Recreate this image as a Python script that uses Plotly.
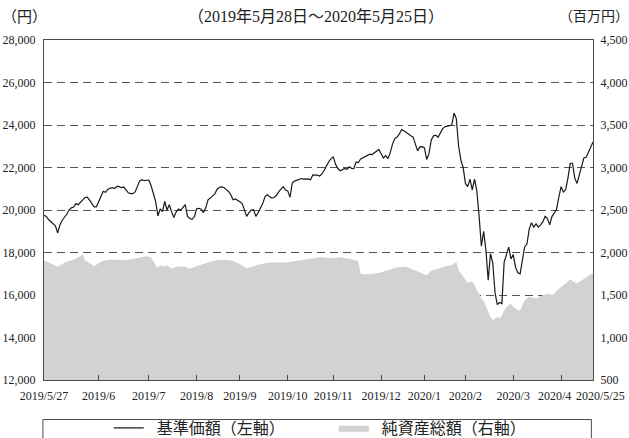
import pandas as pd
import plotly.graph_objects as go

# Japanese market holidays in the period (no NAV published)
holidays = ["2019-07-15", "2019-08-12", "2019-09-16", "2019-09-23", "2019-10-14",
            "2019-10-22", "2019-11-04", "2019-12-31", "2020-01-01", "2020-01-02",
            "2020-01-03", "2020-01-13", "2020-02-11", "2020-02-24", "2020-03-20",
            "2020-04-29", "2020-05-04", "2020-05-05", "2020-05-06"]
dates = [d for d in pd.bdate_range("2019-05-27", "2020-05-25")
         if d.strftime("%Y-%m-%d") not in holidays]

# 基準価額 (円), one value per business day
nav = [
    19750, 19700, 19550, 19450, 19350, 19260, 18920, 19300, 19520, 19640,
    19800, 20000, 20100, 20140, 20300, 20250, 20390, 20480, 20580, 20600,
    20460, 20300, 20150, 20150, 20400, 20700, 20880, 20830, 20970, 21020,
    21050, 21010, 21110, 21100, 21050, 21080, 20970, 20810, 20770, 20770,
    20850, 21090, 21370, 21430, 21380, 21400,
    21410, 21150, 20800, 20400, 19720, 20050, 19920, 20400, 20000, 20250,
    19920, 19650, 19900, 20050, 19990, 20150, 20250, 19700, 19600, 19560,
    19680, 20060, 20080, 20040, 19880, 20100, 20480, 20560, 20640, 20760,
    20980, 21070, 21090, 21060, 20960, 20870, 20720, 20480, 20520, 20460,
    20390, 20300, 20020, 19700, 19880, 20000, 20020,
    19700, 19870, 20100, 20300, 20620, 20720, 20630, 20560, 20590, 20680,
    20850, 21000, 21100, 20940, 20900, 20600, 21280, 21360, 21390, 21430,
    21480, 21450, 21460, 21460, 21420, 21650, 21640, 21640, 21600, 21700,
    21870, 22100, 22270, 22420, 22500, 22150, 21950, 21850, 21900, 21960,
    21920, 22030, 21960, 21950, 22260, 22230,
    22400, 22460, 22530, 22580, 22630, 22610, 22690, 22760, 22850, 22650,
    22450, 22560, 22420, 22700, 23100, 23360, 23430, 23580, 23790, 23730,
    23640, 23540, 23490, 23440, 23100, 22780, 22970, 22980, 22920, 22380,
    22650, 23300, 23490, 23520, 23420, 23600, 23830, 23920, 23960, 23970,
    24000, 24560, 24300, 23000, 22350, 22000,
    21250, 21100, 21450, 20950, 21450, 20900, 19700, 18300, 19000, 18100,
    16700, 17950, 17500, 16100, 15550, 15650, 15600, 17550, 17900, 18250,
    17700, 17900, 17300, 17050, 17000, 17600, 18260, 18400, 19100, 19400,
    19200, 19350, 19200, 19300, 19450, 19700, 19600, 19300, 19700, 19850,
    20050, 20600, 21100, 20850, 20950, 21500, 22200, 22200, 21500, 21250,
    21650, 21950, 22450, 22480, 22720, 22900, 23200,
]

# 純資産総額 (百万円)
assets = [
    1909, 1895, 1880, 1865, 1850, 1840, 1831, 1850, 1870, 1880, 1890, 1897, 1905, 1915, 1929,
    1940, 1956, 1980, 1909, 1895, 1878,
    1860, 1838, 1855, 1878, 1890, 1900, 1909, 1912, 1915, 1917, 1917, 1915, 1912, 1910, 1909,
    1909, 1915, 1920, 1925, 1929, 1935, 1942, 1950, 1956, 1956, 1950, 1940,
    1900, 1850, 1823, 1850, 1840, 1831, 1850, 1830, 1811, 1820, 1831, 1831, 1831, 1831, 1831,
    1820, 1811, 1820, 1830, 1838, 1848, 1858, 1868, 1878, 1885, 1892, 1900, 1907, 1909, 1911,
    1913, 1915, 1917, 1912, 1905, 1898, 1890, 1880, 1865, 1850, 1830, 1811, 1820, 1831, 1840,
    1850, 1857, 1863, 1870, 1874, 1878, 1882, 1886, 1889, 1886, 1883, 1880, 1878, 1882, 1886,
    1890, 1897, 1899, 1902, 1905, 1909, 1914, 1919, 1924, 1929, 1933, 1938, 1942, 1946, 1948,
    1940, 1935, 1935, 1935, 1935,
    1935, 1940, 1945, 1940, 1935, 1930, 1925, 1920, 1915, 1910, 1895,
    1750, 1745, 1742, 1745, 1748, 1750, 1752, 1755, 1760, 1768, 1775, 1785, 1790, 1800, 1810,
    1820, 1825, 1828, 1831, 1831, 1831, 1820, 1810, 1800, 1785, 1770, 1760, 1750, 1740, 1733,
    1760, 1785, 1795, 1805, 1815, 1825, 1831, 1836, 1840, 1845, 1851, 1870, 1890,
    1790, 1750, 1713, 1680, 1640, 1660, 1650, 1627, 1560, 1517, 1460, 1430, 1360, 1300, 1240,
    1205, 1220, 1242, 1225, 1260, 1320, 1360, 1380, 1399, 1360, 1335, 1320, 1320, 1380, 1438,
    1460, 1478, 1470, 1462, 1458, 1470, 1485, 1497, 1505, 1517, 1507, 1497, 1520, 1548, 1576,
    1595, 1615, 1635, 1660, 1682, 1665, 1645, 1635, 1655, 1674, 1695, 1713, 1725, 1740, 1752,
]

tick_dates = ["2019-05-27", "2019-06-28", "2019-07-31", "2019-08-30", "2019-09-30",
              "2019-10-31", "2019-11-29", "2019-12-30", "2020-01-31", "2020-02-28",
              "2020-03-31", "2020-04-30", "2020-05-25"]
tick_labels = ["2019/5/27", "2019/6", "2019/7", "2019/8", "2019/9", "2019/10",
               "2019/11", "2019/12", "2020/1", "2020/2", "2020/3", "2020/4", "2020/5/25"]

assert len(dates) == len(nav) == len(assets), (len(dates), len(nav), len(assets))

SERIF = "Liberation Serif, Noto Sans CJK JP, serif"
AX = "#4a4a4a"
TXT = "#222222"

fig = go.Figure()
fig.add_trace(go.Scatter(x=dates, y=nav, name="\u2002基準価額（左軸）", mode="lines",
                         line=dict(color="#1a1a1a", width=1.2), yaxis="y2"))
fig.add_trace(go.Scatter(x=dates, y=assets, name="\u2002純資産総額（右軸）", mode="lines",
                         line=dict(width=0, color="#d2d2d4"), fill="tozeroy",
                         fillcolor="#d2d2d4", yaxis="y"))

# the last two date labels are drawn as annotations so they can be nudged apart
shown_ticks = tick_labels[:-2] + ["", ""]
LABEL_Y = -0.046

fig.update_layout(
    width=629, height=438,
    margin=dict(l=44, r=36, t=40, b=58, autoexpand=False),
    paper_bgcolor="white", plot_bgcolor="white",
    font=dict(family=SERIF, color=TXT, size=12),
    showlegend=True,
    legend=dict(orientation="h", x=0.118, xanchor="left", y=-0.091, yanchor="top",
                font=dict(family="Noto Sans CJK JP", size=16, color=TXT),
                bgcolor="rgba(0,0,0,0)", itemwidth=30, entrywidth=180),
    xaxis=dict(type="date", range=[dates[0], dates[-1]],
               rangebreaks=[dict(bounds=["sat", "mon"]), dict(values=holidays)],
               tickvals=tick_dates, ticktext=shown_ticks, tickangle=0,
               ticks="inside", ticklen=5,
               tickcolor=AX, showline=True, linecolor=AX, linewidth=1, mirror=True,
               showgrid=False, zeroline=False, ticklabelstandoff=5,
               tickfont=dict(family=SERIF, size=12, color=TXT)),
    yaxis=dict(side="right", range=[500, 4500], tick0=500, dtick=500, tickformat=",",
               showgrid=True, gridcolor="#555555", gridwidth=1, griddash="8px,5px",
               zeroline=False, showline=True, linecolor=AX, linewidth=1,
               ticks="", ticklabelstandoff=4,
               tickfont=dict(family=SERIF, size=12, color=TXT)),
    yaxis2=dict(side="left", overlaying="y", range=[12000, 28000], tick0=12000, dtick=2000,
                tickformat=",", showgrid=False, zeroline=False, showline=True,
                linecolor=AX, linewidth=1, ticks="", ticklabelstandoff=5,
                tickfont=dict(family=SERIF, size=12, color=TXT)),
    shapes=[dict(type="rect", xref="paper", yref="paper", x0=-0.002, x1=0.997,
                 y0=-0.1163, y1=-0.2, line=dict(color=AX, width=1),
                 fillcolor="rgba(0,0,0,0)")],
    annotations=[
        dict(text="（円）", xref="paper", yref="paper", x=-0.035, y=1.068,
             xanchor="center", yanchor="middle",
             showarrow=False, font=dict(family=SERIF, size=15, color=TXT)),
        dict(text="（2019年5月28日～2020年5月25日）", xref="paper", yref="paper",
             x=0.495, y=1.068, xanchor="center", yanchor="middle",
             showarrow=False, font=dict(family=SERIF, size=16, color=TXT)),
        dict(text="（百万円）", xref="paper", yref="paper", x=1.0018, y=1.068,
             xanchor="center", yanchor="middle",
             showarrow=False, font=dict(family=SERIF, size=14, color=TXT)),
        dict(text=tick_labels[-2], xref="x", yref="paper", x=tick_dates[-2], y=LABEL_Y,
             xanchor="center", yanchor="middle", xshift=-7, showarrow=False,
             font=dict(family=SERIF, size=12, color=TXT)),
        dict(text=tick_labels[-1], xref="paper", yref="paper", x=1.0619, y=LABEL_Y,
             xanchor="right", yanchor="middle", showarrow=False,
             font=dict(family=SERIF, size=12, color=TXT)),
    ],
)

fig.write_html("out.html",
               config={"displayModeBar": False},
               post_script="document.body.style.margin='0px';"
                           "document.body.style.overflow='hidden';")
